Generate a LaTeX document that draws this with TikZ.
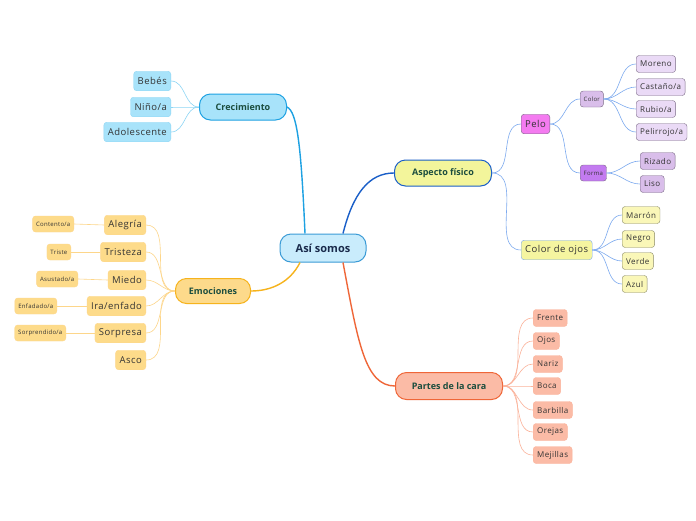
\documentclass[tikz,border=0pt]{standalone}
\usepackage{fontspec}
\setmainfont{Open Sans}
\newfontfamily\leaffont{Open Sans}[LetterSpace=5]
\usetikzlibrary{positioning}

\definecolor{rootfill}{HTML}{C9ECFC}
\definecolor{rootline}{HTML}{3B9BD6}
\definecolor{crecfill}{HTML}{A8E3FA}
\definecolor{crecline}{HTML}{1DA1E2}
\definecolor{creclink}{HTML}{8ED6F5}
\definecolor{aspfill}{HTML}{F3F59B}
\definecolor{aspline}{HTML}{1A5FC8}
\definecolor{asplink}{HTML}{7DAAEF}
\definecolor{pelofill}{HTML}{F47BF0}
\definecolor{colorfill}{HTML}{D9BEEA}
\definecolor{formafill}{HTML}{C37BF0}
\definecolor{lilafill}{HTML}{EADAF6}
\definecolor{lilaline}{HTML}{7A6A86}
\definecolor{ojosfill}{HTML}{F5F5A0}
\definecolor{ojosleaf}{HTML}{FAF7B8}
\definecolor{ojosline}{HTML}{8A8A66}
\definecolor{emofill}{HTML}{FDDA8B}
\definecolor{emoline}{HTML}{F6B31C}
\definecolor{emoleaf}{HTML}{FDDB8A}
\definecolor{emolink}{HTML}{FDD68A}
\definecolor{carafill}{HTML}{FBBBA6}
\definecolor{caraline}{HTML}{EF6638}
\definecolor{caralink}{HTML}{FBB39B}
\definecolor{darkgreen}{HTML}{1B4D3E}
\definecolor{navy}{HTML}{1A2B4C}

\begin{document}
\begin{tikzpicture}[x=1pt, y=-1pt,
  box/.style={draw, rounded corners=3pt, inner xsep=4pt, inner ysep=0pt,
    minimum height=17pt, text=black!80, font=\leaffont\fontsize{8}{9}\selectfont},
  bigleaf/.style={box, minimum height=19.5pt, font=\leaffont\fontsize{9.5}{10}\selectfont},
  tiny/.style={box, minimum height=16pt, inner xsep=3.5pt, font=\leaffont\fontsize{6}{7}\selectfont},
  branch/.style={draw, line width=1pt, rounded corners=11pt, minimum height=26pt,
    text=darkgreen, font=\fontsize{9}{10}\selectfont\bfseries},
  link/.style={line width=0.6pt},
  mainlink/.style={line width=1.4pt}]

  \fill[white] (0,0) rectangle (696,520);

  % root and main branches
  \node[branch, fill=rootfill, draw=rootline, minimum width=86pt, minimum height=28pt,
    text=navy, font=\fontsize{11}{12}\selectfont\bfseries] (root) at (323,248) {Así somos};
  \node[branch, fill=crecfill, draw=crecline, minimum width=87pt] (crec) at (243,107) {Crecimiento};
  \node[branch, fill=aspfill, draw=aspline, minimum width=97pt] (asp) at (443,173) {Aspecto físico};
  \node[branch, fill=emofill, draw=emoline, minimum width=75pt, minimum height=25pt] (emo) at (213,291) {Emociones};
  \node[branch, fill=carafill, draw=caraline, minimum width=107pt, minimum height=27pt] (cara) at (449,386) {Partes de la cara};

  % Crecimiento
  \node[bigleaf, fill=crecfill, draw=creclink, anchor=east] (bebes) at (171,81) {Bebés};
  \node[bigleaf, fill=crecfill, draw=creclink, anchor=east] (nino) at (171,107) {Niño/a};
  \node[bigleaf, fill=crecfill, draw=creclink, anchor=east] (adol) at (171,132) {Adolescente};

  % Aspecto fisico
  \node[bigleaf, fill=pelofill, draw=lilaline, anchor=west] (pelo) at (521,124) {Pelo};
  \node[tiny, fill=colorfill, draw=lilaline, anchor=west] (color) at (580,99) {Color};
  \node[tiny, fill=formafill, draw=lilaline, anchor=west] (forma) at (580,173) {Forma};
  \node[box, fill=lilafill, draw=lilaline, anchor=west] (moreno) at (636,64) {Moreno};
  \node[box, fill=lilafill, draw=lilaline, anchor=west] (castano) at (636,87) {Castaño/a};
  \node[box, fill=lilafill, draw=lilaline, anchor=west] (rubio) at (636,109) {Rubio/a};
  \node[box, fill=lilafill, draw=lilaline, anchor=west] (peli) at (636,132) {Pelirrojo/a};
  \node[box, fill=colorfill, draw=lilaline, anchor=west] (rizado) at (640,161) {Rizado};
  \node[box, fill=colorfill, draw=lilaline, anchor=west] (liso) at (640,184) {Liso};
  \node[bigleaf, fill=ojosfill, draw=asplink, anchor=west] (ojos) at (521,250) {Color de ojos};
  \node[box, fill=ojosleaf, draw=ojosline, anchor=west] (marron) at (622,215) {Marrón};
  \node[box, fill=ojosleaf, draw=ojosline, anchor=west] (negro) at (622,239) {Negro};
  \node[box, fill=ojosleaf, draw=ojosline, anchor=west] (verde) at (622,261) {Verde};
  \node[box, fill=ojosleaf, draw=ojosline, anchor=west] (azul) at (622,284) {Azul};

  % Emociones
  \node[bigleaf, fill=emoleaf, draw=emolink, anchor=east] (alegria) at (146,225) {Alegría};
  \node[bigleaf, fill=emoleaf, draw=emolink, anchor=east] (tristeza) at (146,252) {Tristeza};
  \node[bigleaf, fill=emoleaf, draw=emolink, anchor=east] (miedo) at (146,280) {Miedo};
  \node[bigleaf, fill=emoleaf, draw=emolink, anchor=east] (ira) at (146,306) {Ira/enfado};
  \node[bigleaf, fill=emoleaf, draw=emolink, anchor=east] (sorpresa) at (146,333) {Sorpresa};
  \node[bigleaf, fill=emoleaf, draw=emolink, anchor=east] (asco) at (146,360) {Asco};
  \node[tiny, fill=emoleaf, draw=emolink, anchor=east] (contento) at (74,224) {Contento/a};
  \node[tiny, fill=emoleaf, draw=emolink, anchor=east] (triste) at (71,252) {Triste};
  \node[tiny, fill=emoleaf, draw=emolink, anchor=east] (asustado) at (78,279) {Asustado/a};
  \node[tiny, fill=emoleaf, draw=emolink, anchor=east] (enfadado) at (57,306) {Enfadado/a};
  \node[tiny, fill=emoleaf, draw=emolink, anchor=east] (sorprendido) at (66,333) {Sorprendido/a};

  % Partes de la cara
  \node[box, fill=carafill, draw=caralink, anchor=west] (frente) at (533,318) {Frente};
  \node[box, fill=carafill, draw=caralink, anchor=west] (ojo) at (533,341) {Ojos};
  \node[box, fill=carafill, draw=caralink, anchor=west] (nariz) at (533,364) {Nariz};
  \node[box, fill=carafill, draw=caralink, anchor=west] (boca) at (533,386) {Boca};
  \node[box, fill=carafill, draw=caralink, anchor=west] (barbilla) at (533,410) {Barbilla};
  \node[box, fill=carafill, draw=caralink, anchor=west] (orejas) at (533,432) {Orejas};
  \node[box, fill=carafill, draw=caralink, anchor=west] (mejillas) at (533,455) {Mejillas};

  % main connectors
  \draw[mainlink, crecline] ([xshift=-18pt]root.north) .. controls +(-4,-90) and +(10,5) .. (crec.east);
  \draw[mainlink, aspline] ([xshift=20pt]root.north) .. controls +(10,-40) and +(-25,0) .. (asp.west);
  \draw[mainlink, emoline] ([xshift=-23pt]root.south) .. controls +(-10,20) and +(20,0) .. (emo.east);
  \draw[mainlink, caraline] ([xshift=20pt]root.south) .. controls +(15,80) and +(-30,0) .. (cara.west);

  % sub connectors
  \foreach \k in {bebes,nino,adol}
    \draw[link, creclink] (crec.west) to[out=180,in=0] (\k.east);
  \foreach \k in {pelo,ojos}
    \draw[link, asplink] (asp.east) to[out=0,in=180] (\k.west);
  \foreach \k in {color,forma}
    \draw[link, asplink] (pelo.east) to[out=0,in=180] (\k.west);
  \foreach \k in {moreno,castano,rubio,peli}
    \draw[link, asplink] (color.east) to[out=0,in=180] (\k.west);
  \foreach \k in {rizado,liso}
    \draw[link, asplink] (forma.east) to[out=0,in=180] (\k.west);
  \foreach \k in {marron,negro,verde,azul}
    \draw[link, asplink] (ojos.east) to[out=0,in=180] (\k.west);
  \foreach \k in {alegria,tristeza,miedo,ira,sorpresa,asco}
    \draw[link, emolink] (emo.west) to[out=180,in=0] (\k.east);
  \foreach \a/\b in {alegria/contento,tristeza/triste,miedo/asustado,ira/enfadado,sorpresa/sorprendido}
    \draw[link, emolink] (\a.west) -- (\b.east);
  \foreach \k in {frente,ojo,nariz,boca,barbilla,orejas,mejillas}
    \draw[link, caralink] (cara.east) to[out=0,in=180] (\k.west);
\end{tikzpicture}
\end{document}
